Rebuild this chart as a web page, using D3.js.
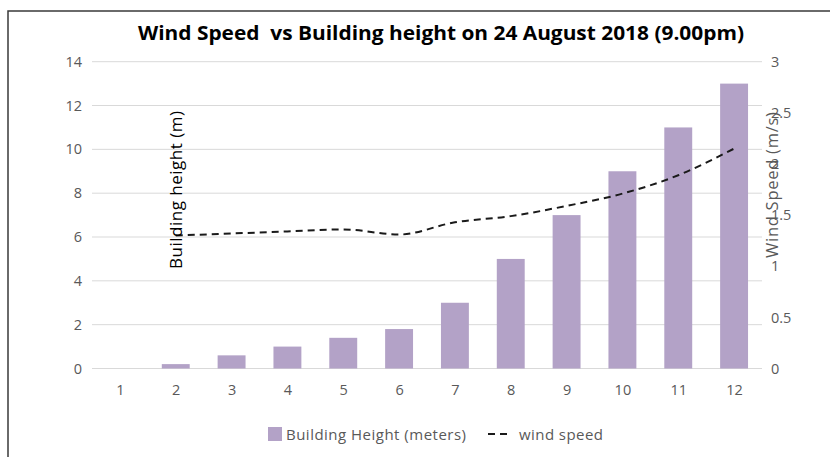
<!DOCTYPE html>
<html>
<head>
<meta charset="utf-8">
<script src="https://cdn.jsdelivr.net/npm/d3@7"></script>
<style>
  body { margin: 0; background: #fff; }
  svg text { font-family: "Open Sans", "Liberation Sans", sans-serif; }
</style>
</head>
<body>
<div id="chart"></div>
<script>
// chart data
const categories = ["1", "2", "3", "4", "5", "6", "7", "8", "9", "10", "11", "12"];
const buildingHeight = [0, 0.2, 0.6, 1.0, 1.4, 1.8, 3, 5, 7, 9, 11, 13];
const windSpeed = [null, 1.30, 1.32, 1.34, 1.36, 1.31, 1.43, 1.49, 1.59, 1.71, 1.89, 2.15];
const leftTicks = [0, 2, 4, 6, 8, 10, 12, 14];
const rightTicks = [0, 0.5, 1, 1.5, 2, 2.5, 3];

const W = 830, H = 457;
const plot = {left: 92, right: 762, top: 61.7, bottom: 368.5};

const svg = d3.select("#chart").append("svg")
    .attr("width", W)
    .attr("height", H);

// frame
svg.append("path")
    .attr("d", "M8," + H + " V11 H" + W)
    .attr("fill", "none")
    .attr("stroke", "#3a3a3a")
    .attr("stroke-width", 1.5);

const x = d3.scaleBand().domain(categories).range([plot.left, plot.right]).paddingInner(0.5).paddingOuter(0.25);
const xPoint = d3.scalePoint().domain(categories).range([plot.left, plot.right]).padding(0.5);
const yL = d3.scaleLinear().domain([0, 14]).range([plot.bottom, plot.top]);
const yR = d3.scaleLinear().domain([0, 3]).range([plot.bottom, plot.top]);

// grid lines
svg.append("g").selectAll("line")
    .data(leftTicks)
    .join("line")
    .attr("x1", plot.left)
    .attr("x2", plot.right)
    .attr("y1", d => yL(d))
    .attr("y2", d => yL(d))
    .attr("stroke", "#d9d9d9")
    .attr("stroke-width", 1);

// left axis
const gL = svg.append("g")
    .attr("transform", "translate(" + plot.left + ",0)")
    .call(d3.axisLeft(yL).tickValues(leftTicks).tickSize(0).tickPadding(10));
gL.select(".domain").remove();
gL.selectAll("text").attr("fill", "#595959").style("font-size", "14.5px");

// right axis
const gR = svg.append("g")
    .attr("transform", "translate(" + plot.right + ",0)")
    .call(d3.axisRight(yR).tickValues(rightTicks).tickSize(0).tickPadding(9).tickFormat(d3.format("")));
gR.select(".domain").remove();
gR.selectAll("text").attr("fill", "#595959").style("font-size", "14.5px");

// bottom axis
const gX = svg.append("g")
    .attr("transform", "translate(0," + plot.bottom + ")")
    .call(d3.axisBottom(xPoint).tickSize(0).tickPadding(16));
gX.select(".domain").remove();
gX.selectAll("text").attr("fill", "#595959").style("font-size", "14.5px");

// bars
svg.append("g").selectAll("rect")
    .data(categories.map((c, i) => ({c: c, v: buildingHeight[i]})))
    .join("rect")
    .attr("x", d => x(d.c))
    .attr("width", x.bandwidth())
    .attr("y", d => yL(d.v))
    .attr("height", d => yL(0) - yL(d.v))
    .attr("fill", "#b3a2c7");

// wind speed line
const line = d3.line()
    .defined(d => d.v != null)
    .x(d => xPoint(d.c))
    .y(d => yR(d.v))
    .curve(d3.curveMonotoneX);
svg.append("path")
    .datum(categories.map((c, i) => ({c: c, v: windSpeed[i]})))
    .attr("d", line)
    .attr("fill", "none")
    .attr("stroke", "#1a1a1a")
    .attr("stroke-width", 2)
    .attr("stroke-dasharray", "7,5");

// title
svg.append("text")
    .attr("x", 441)
    .attr("y", 40)
    .attr("text-anchor", "middle")
    .attr("fill", "#000")
    .style("font-size", "20px")
    .style("font-weight", "bold")
    .attr("xml:space", "preserve")
    .attr("textLength", 606)
    .attr("lengthAdjust", "spacingAndGlyphs")
    .text("Wind Speed  vs Building height on 24 August 2018 (9.00pm)");

// axis titles
svg.append("text")
    .attr("transform", "translate(182,190) rotate(-90)")
    .attr("text-anchor", "middle")
    .attr("fill", "#000")
    .style("font-size", "17px")
    .attr("textLength", 158)
    .text("Building height (m)");
svg.append("text")
    .attr("transform", "translate(778,185) rotate(-90)")
    .attr("text-anchor", "middle")
    .attr("fill", "#595959")
    .style("font-size", "16.5px")
    .attr("textLength", 146)
    .text("Wind Speed (m/s)");

// legend
const lg = svg.append("g");
lg.append("rect")
    .attr("x", 268).attr("y", 427)
    .attr("width", 14).attr("height", 14)
    .attr("fill", "#b3a2c7");
lg.append("text")
    .attr("x", 286).attr("y", 440)
    .attr("fill", "#595959")
    .style("font-size", "15px")
    .attr("textLength", 180)
    .text("Building Height (meters)");
lg.append("line")
    .attr("x1", 488).attr("x2", 511)
    .attr("y1", 434).attr("y2", 434)
    .attr("stroke", "#1a1a1a")
    .attr("stroke-width", 2)
    .attr("stroke-dasharray", "7,5");
lg.append("text")
    .attr("x", 519).attr("y", 440)
    .attr("fill", "#595959")
    .style("font-size", "15px")
    .attr("textLength", 84)
    .text("wind speed");
</script>
</body>
</html>
